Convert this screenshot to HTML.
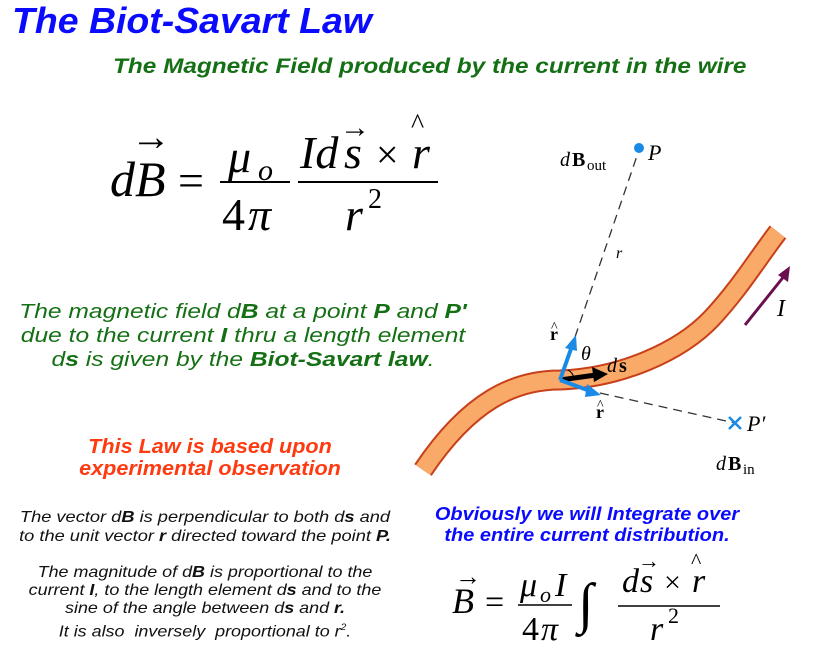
<!DOCTYPE html>
<html><head><meta charset="utf-8"><style>
body{margin:0;width:825px;height:666px;background:#fff;position:relative;overflow:hidden;font-family:"Liberation Sans",sans-serif}
.a{position:absolute;white-space:nowrap}
.c{text-align:center;transform-origin:50% 50%}
</style></head><body>
<div class="a" style="left:12px;top:0px;font-size:36px;font-weight:bold;font-style:italic;color:#0a0aff;transform:scaleX(1.04);transform-origin:0 0">The Biot-Savart Law</div>
<div class="a" style="left:113px;top:55px;font-size:21px;font-weight:bold;font-style:italic;color:#157015;transform:scaleX(1.16);transform-origin:0 0">The Magnetic Field produced by the current in the wire</div>

<svg class="a" style="left:0;top:0" width="825" height="666">
<g font-family="Liberation Serif,serif" font-style="italic" fill="#000">
<text x="110" y="196" font-size="50">dB</text>
<text x="131" y="150" font-size="40" font-style="normal">&#8594;</text>
<text x="178" y="196" font-size="46" font-style="normal">=</text>
<text x="228" y="172" font-size="46">μ</text><text x="258" y="180" font-size="30">o</text>
<line x1="220" y1="182" x2="290" y2="182" stroke="#000" stroke-width="2"/>
<text x="222" y="230" font-size="46" font-style="normal">4</text><text x="248" y="230" font-size="46">π</text>
<text x="300" y="168" font-size="46">Id</text><text x="344" y="168" font-size="46">s</text>
<text x="340" y="137" font-size="30" font-style="normal">&#8594;</text>
<text x="376" y="168" font-size="40" font-style="normal">×</text>
<text x="412" y="168" font-size="46">r</text><text x="411" y="133" font-size="28" font-style="normal">^</text>
<line x1="298" y1="182" x2="438" y2="182" stroke="#000" stroke-width="2"/>
<text x="345" y="230" font-size="46">r</text><text x="368" y="208" font-size="28" font-style="normal">2</text>

<text x="452" y="613" font-size="36">B</text>
<text x="455" y="585" font-size="26" font-style="normal">&#8594;</text>
<text x="485" y="613" font-size="34" font-style="normal">=</text>
<text x="520" y="596" font-size="34">μ</text><text x="540" y="602" font-size="22">o</text><text x="555" y="596" font-size="34">I</text>
<line x1="518" y1="605" x2="572" y2="605" stroke="#000" stroke-width="1.5"/>
<text x="522" y="640" font-size="34" font-style="normal">4</text><text x="541" y="640" font-size="34">π</text>
<text x="578" y="622" font-size="56" font-style="normal">∫</text>
<text x="622" y="592" font-size="34">d</text><text x="640" y="592" font-size="34">s</text>
<text x="638" y="568" font-size="22" font-style="normal">&#8594;</text>
<text x="664" y="592" font-size="30" font-style="normal">×</text>
<text x="692" y="592" font-size="34">r</text><text x="691" y="568" font-size="22" font-style="normal">^</text>
<line x1="618" y1="606" x2="720" y2="606" stroke="#000" stroke-width="1.5"/>
<text x="650" y="640" font-size="34">r</text><text x="668" y="623" font-size="22" font-style="normal">2</text>
</g>

<path d="M423,470 C470,400 515,380 560,380 C620,378 680,352 712,318 C740,288 760,255 778,232" fill="none" stroke="#c8401a" stroke-width="21"/>
<path d="M423,470 C470,400 515,380 560,380 C620,378 680,352 712,318 C740,288 760,255 778,232" fill="none" stroke="#f9a968" stroke-width="17"/>
<line x1="575" y1="337" x2="639" y2="150" stroke="#333" stroke-width="1.3" stroke-dasharray="9,6"/>
<line x1="600" y1="393" x2="735" y2="423" stroke="#333" stroke-width="1.3" stroke-dasharray="9,6"/>
<circle cx="639" cy="148" r="5" fill="#1a8ae6"/>
<path d="M729,417 L741,429 M741,417 L729,429" stroke="#1a8ae6" stroke-width="2.5"/>
<line x1="745" y1="325" x2="785" y2="275" stroke="#6a1050" stroke-width="3"/>
<polygon points="790,266 778,275 788,282" fill="#6a1050"/>
<path d="M568,370 A12,12 0 0 1 574,378" fill="none" stroke="#000"/>
<line x1="560" y1="380" x2="596" y2="375" stroke="#000" stroke-width="5"/>
<polygon points="608,374 592,367 594,382" fill="#000"/>
<line x1="560" y1="380" x2="572" y2="346" stroke="#1a8ae6" stroke-width="4"/>
<polygon points="576,335 565,348 577,351" fill="#1a8ae6"/>
<line x1="560" y1="380" x2="590" y2="391" stroke="#1a8ae6" stroke-width="4"/>
<polygon points="601,395 587,384 585,397" fill="#1a8ae6"/>
<g font-family="Liberation Serif,serif" fill="#000">
<text x="560" y="166" font-size="20" font-style="italic">d</text><text x="572" y="166" font-size="20" font-weight="bold">B</text><text x="587" y="170" font-size="15">out</text>
<text x="648" y="160" font-size="22" font-style="italic">P</text>
<text x="616" y="258" font-size="16" font-style="italic">r</text>
<text x="777" y="316" font-size="24" font-style="italic">I</text>
<text x="550" y="340" font-size="18" font-weight="bold">r</text><text x="551" y="331" font-size="14">^</text>
<text x="581" y="360" font-size="20" font-style="italic">θ</text>
<text x="607" y="372" font-size="20" font-style="italic">d</text><text x="619" y="372" font-size="20" font-weight="bold">s</text>
<text x="596" y="418" font-size="18" font-weight="bold">r</text><text x="597" y="409" font-size="14">^</text>
<text x="747" y="431" font-size="22" font-style="italic">P′</text>
<text x="716" y="470" font-size="20" font-style="italic">d</text><text x="728" y="470" font-size="20" font-weight="bold">B</text><text x="743" y="474" font-size="15">in</text>
</g>
</svg>

<div class="a c" style="left:8px;top:300px;width:470px;font-size:20.5px;font-style:italic;color:#157015;line-height:24px;transform:scaleX(1.2)">The magnetic field d<b>B</b> at a point <b>P</b> and <b>P'</b><br>due to the current <b>I</b> thru a length element<br>d<b>s</b> is given by the <b>Biot-Savart law</b>.</div>
<div class="a c" style="left:40px;top:436px;width:340px;font-size:20px;font-weight:bold;font-style:italic;color:#ff3a10;line-height:22px;transform:scaleX(1.08)">This Law is based upon<br>experimental observation</div>
<div class="a c" style="left:0;top:508px;width:410px;font-size:16px;font-style:italic;color:#111;line-height:19px;transform:scaleX(1.14)">The vector d<b>B</b> is perpendicular to both d<b>s</b> and<br>to the unit vector <b>r</b> directed toward the point <b>P.</b></div>
<div class="a c" style="left:0;top:564px;width:410px;font-size:16px;font-style:italic;color:#111;line-height:18px;transform:scaleX(1.12)">The magnitude of d<b>B</b> is proportional to the<br>current <b>I</b>, to the length element d<b>s</b> and to the<br>sine of the angle between d<b>s</b> and <b>r.</b><br>It is also &nbsp;inversely &nbsp;proportional to r<sup style="font-size:9px">2</sup>.</div>
<div class="a c" style="left:412px;top:504px;width:350px;font-size:18px;font-weight:bold;font-style:italic;color:#0a0aff;line-height:21px;transform:scaleX(1.11)">Obviously we will Integrate over<br>the entire current distribution.</div>
</body></html>
